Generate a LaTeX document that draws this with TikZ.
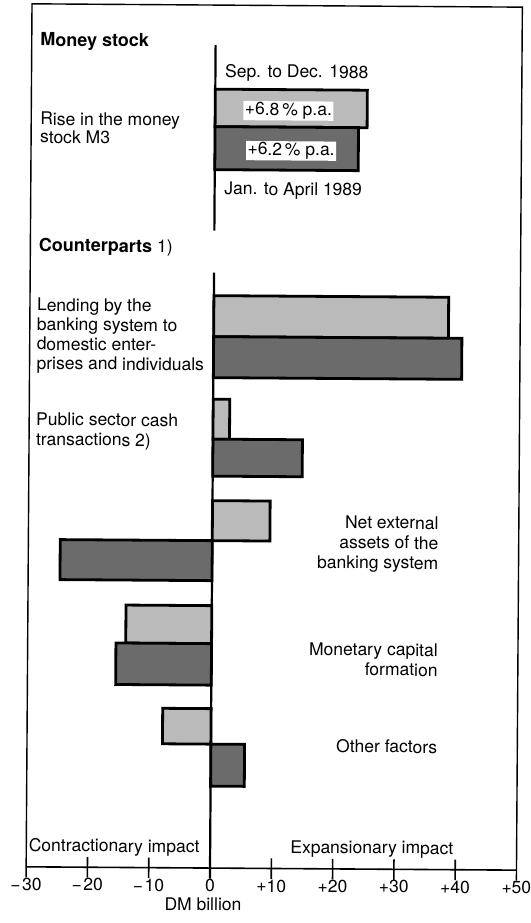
\documentclass[tikz,border=0pt]{standalone}
\usepackage{fontspec}
\setmainfont{TeX Gyre Heros}
\newcommand{\hbarbox}[4]{\draw[#1] (212.8,#2) rectangle ({212.8+6.13*(#3)},#4);}
\begin{document}
\begin{tikzpicture}[x=1pt,y=-1pt,
  txt/.style={font=\fontsize{17.5}{20}\selectfont, inner sep=0pt, outer sep=0pt},
  hd/.style={txt, font=\fontsize{18}{20}\selectfont\bfseries, anchor=base west},
  lw/.style={txt, anchor=base west},
  rt/.style={txt, anchor=base east},
  lightbar/.style={draw=black, line width=2.8pt, fill=black!27},
  darkbar/.style={draw=black, line width=2.8pt, fill=black!58},
  frameline/.style={draw=black, line width=1.4pt},
  zeroline/.style={draw=black, line width=2.2pt},
  tickline/.style={draw=black, line width=1.6pt},
  tlab/.style={txt, anchor=base},
  pct/.style={txt, fill=white, inner sep=1.5pt, anchor=base}
]
\useasboundingbox (0,0) rectangle (530,923);
\begin{scope}[rotate around={-0.39:(265,461)}, transform shape]
% frame and axis
\coordinate (fbl) at (28.9,879);
\coordinate (ftl) at (28.9,5.4);
\coordinate (ftr) at (519.3,5.4);
\coordinate (fbr) at (519.3,879);
\coordinate (axl) at (28.9,868.5);
\coordinate (axr) at (519.3,868.5);
\draw[frameline] (fbl) -- (ftl) -- (ftr) -- (fbr);
\draw[tickline] (axl) -- (axr);
\foreach \v in {-20,-10,10,20,30,40}{
  \coordinate (t\v a) at ({212.8+6.13*\v},858.5);
  \coordinate (t\v b) at ({212.8+6.13*\v},879);
  \draw[tickline] (t\v a) -- (t\v b);
}
% zero line
\coordinate (z1) at (212.8,45.5);
\coordinate (z2) at (212.8,231);
\coordinate (z3) at (212.8,273);
\coordinate (z4) at (212.8,879);
\draw[zeroline] (z1) -- (z2);
\draw[zeroline] (z3) -- (z4);
% tick labels
\node[tlab] (lm30) at ({212.8+6.13*(-30)},892) {−\kern1.5pt30};
\node[tlab] (lm20) at ({212.8+6.13*(-20)},892) {−\kern1.5pt20};
\node[tlab] (lm10) at ({212.8+6.13*(-10)},892) {−\kern1.5pt10};
\node[tlab] (l0) at (212.8,892) {0};
\node[tlab] (l10) at ({212.8+6.13*10},892) {+10};
\node[tlab] (l20) at ({212.8+6.13*20},892) {+20};
\node[tlab] (l30) at ({212.8+6.13*30},892) {+30};
\node[tlab] (l40) at ({212.8+6.13*40},892) {+40};
\node[tlab] (l50) at ({212.8+6.13*50},892) {+50};
\node[tlab] (dm) at (206,911) {DM billion};
\node[lw] (contr) at (31.5,853) {Contractionary impact};
\node[tlab] (expa) at (374.5,853) {Expansionary impact};
% money stock
\node[hd] (ms) at (37.5,47.5) {Money stock};
\node[lw] (rise1) at (38,126.5) {Rise in the money};
\node[lw] (rise2) at (38,144.5) {stock M3};
\node[lw] (sep) at (222.5,77.5) {Sep. to Dec. 1988};
\node[lw] (jan) at (222.5,195) {Jan. to April 1989};
\hbarbox{lightbar}{89.5}{24.8}{127}
\hbarbox{darkbar}{127}{23.4}{170}
\node[pct] (p68) at (286,115) {+6.8\,\% p.a.};
\node[pct] (p62) at (289,155) {+6.2\,\% p.a.};
% counterparts
\node[lw] (cp) at (37.5,253) {{\fontsize{18}{20}\selectfont\bfseries Counterparts} 1)};
\node[lw] (lend1) at (36,312.5) {Lending by the};
\node[lw] (lend2) at (36,332) {banking system to};
\node[lw] (lend3) at (36,351.5) {domestic enter-};
\node[lw] (lend4) at (36,371) {prises and individuals};
\hbarbox{lightbar}{296}{38.3}{337}
\hbarbox{darkbar}{337}{40.5}{378}
\node[lw] (pub1) at (36,427) {Public sector cash};
\node[lw] (pub2) at (36,447) {transactions 2)};
\hbarbox{lightbar}{399.5}{2.7}{439.5}
\hbarbox{darkbar}{439.5}{14.6}{476.5}
\node[rt] (net1) at (439,528) {Net external};
\node[rt] (net2) at (439,548) {assets of the};
\node[rt] (net3) at (439,568) {banking system};
\hbarbox{lightbar}{501}{9.4}{541}
\hbarbox{darkbar}{541}{-24.8}{581}
\node[rt] (mon1) at (439,655) {Monetary capital};
\node[rt] (mon2) at (439,675) {formation};
\hbarbox{lightbar}{606}{-14}{644}
\hbarbox{darkbar}{644}{-15.6}{685.5}
\node[rt] (oth) at (439,752) {Other factors};
\hbarbox{lightbar}{709}{-7.9}{744.5}
\hbarbox{darkbar}{744.5}{5.5}{786.5}
\end{scope}
\end{tikzpicture}
\end{document}
